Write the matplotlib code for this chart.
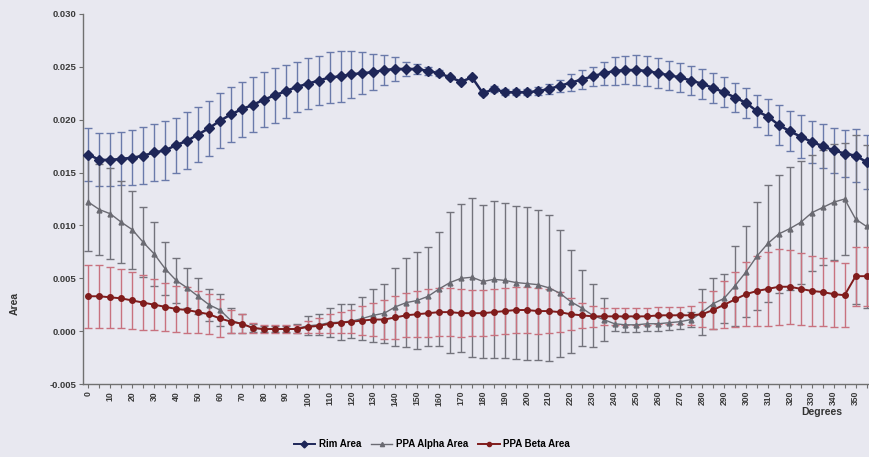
import matplotlib
matplotlib.use("Agg")
import matplotlib.pyplot as plt
from matplotlib.lines import Line2D
import numpy as np

plt.rcParams['font.family'] = ['Liberation Sans', 'DejaVu Sans']

degrees = list(range(0, 360, 5))

rim_area = [0.0167, 0.0162, 0.0162, 0.0163, 0.0164, 0.0166, 0.0169, 0.0171, 0.0176, 0.0180,
            0.0186, 0.0192, 0.0199, 0.0205, 0.0210, 0.0214, 0.0219, 0.0223, 0.0227, 0.0231,
            0.0234, 0.0237, 0.0240, 0.0241, 0.0243, 0.0244, 0.0245, 0.0247, 0.0248, 0.0248,
            0.0248, 0.0246, 0.0244, 0.0240, 0.0236, 0.0240, 0.0225, 0.0229, 0.0226, 0.0226,
            0.0226, 0.0227, 0.0229, 0.0232, 0.0235, 0.0238, 0.0241, 0.0244, 0.0246, 0.0247,
            0.0247, 0.0246, 0.0244, 0.0242, 0.0240, 0.0237, 0.0234, 0.0230, 0.0226, 0.0221,
            0.0216, 0.0208, 0.0203, 0.0195, 0.0189, 0.0184, 0.0179, 0.0175, 0.0171, 0.0168,
            0.0166, 0.0160]
rim_err = [0.0025, 0.0025, 0.0025, 0.0025, 0.0026, 0.0027, 0.0027, 0.0028, 0.0026, 0.0027,
           0.0026, 0.0026, 0.0026, 0.0026, 0.0026, 0.0026, 0.0026, 0.0026, 0.0025, 0.0024,
           0.0024, 0.0023, 0.0024, 0.0024, 0.0022, 0.0020, 0.0017, 0.0014, 0.0011, 0.0007,
           0.0005, 0.0004, 0.0003, 0.0001, 0.0001, 0.0001, 0.0002, 0.0003, 0.0003, 0.0003,
           0.0003, 0.0004, 0.0005, 0.0006, 0.0008, 0.0009, 0.0009, 0.0011, 0.0013, 0.0013,
           0.0014, 0.0014, 0.0014, 0.0014, 0.0014, 0.0014, 0.0014, 0.0014, 0.0014, 0.0014,
           0.0014, 0.0015, 0.0017, 0.0019, 0.0019, 0.0020, 0.0020, 0.0021, 0.0021, 0.0022,
           0.0025, 0.0026]

alpha_area = [0.0122, 0.0115, 0.0111, 0.0103, 0.0096, 0.0084, 0.0073, 0.0059, 0.0048, 0.0041,
              0.0033, 0.0025, 0.0020, 0.0010, 0.0007, 0.0003, 0.0002, 0.0002, 0.0002, 0.00025,
              0.0005, 0.0006, 0.0008, 0.00085, 0.00095, 0.0012, 0.0015, 0.0017, 0.0023, 0.0027,
              0.0029, 0.0033, 0.0040, 0.0046, 0.0050, 0.0051, 0.0047, 0.0049, 0.0048, 0.0046,
              0.0045, 0.0044, 0.0041, 0.0036, 0.0028, 0.0022, 0.0015, 0.0011, 0.0007, 0.0006,
              0.0006, 0.0007, 0.0007, 0.0008, 0.0009, 0.0011, 0.0018, 0.0026, 0.0031, 0.0043,
              0.0056, 0.0071, 0.0083, 0.0092, 0.0097, 0.0103, 0.0112, 0.0117, 0.0122, 0.0125,
              0.0106, 0.0099]
alpha_err = [0.0046, 0.0043, 0.0043, 0.0039, 0.0037, 0.0033, 0.0030, 0.0025, 0.0021, 0.0019,
             0.0017, 0.0015, 0.0015, 0.0012, 0.0009, 0.0004, 0.0003, 0.0003, 0.0003, 0.0004,
             0.0009, 0.0010, 0.0014, 0.0017, 0.0016, 0.0020, 0.0025, 0.0028, 0.0037, 0.0042,
             0.0046, 0.0047, 0.0054, 0.0067, 0.0070, 0.0075, 0.0072, 0.0074, 0.0073, 0.0072,
             0.0072, 0.0071, 0.0069, 0.0060, 0.0049, 0.0036, 0.0030, 0.0020, 0.0007, 0.0007,
             0.0007, 0.0007, 0.0007, 0.0007, 0.0007, 0.0007, 0.0022, 0.0024, 0.0023, 0.0038,
             0.0043, 0.0051, 0.0055, 0.0056, 0.0058, 0.0058, 0.0055, 0.0054, 0.0055, 0.0053,
             0.0080, 0.0077]

beta_area = [0.0033, 0.0033, 0.0032, 0.0031, 0.0029, 0.0027, 0.0025, 0.0023, 0.0021, 0.0020,
             0.0018, 0.0016, 0.0012, 0.0009, 0.0007, 0.0003, 0.0002, 0.0002, 0.0002, 0.0002,
             0.0004, 0.0005, 0.0007, 0.0008, 0.0009, 0.0010, 0.0011, 0.0011, 0.0013, 0.0015,
             0.0016, 0.0017, 0.0018, 0.0018, 0.0017, 0.0017, 0.0017, 0.0018, 0.0019, 0.0020,
             0.0020, 0.0019, 0.0019, 0.0018, 0.0016, 0.0015, 0.0014, 0.0014, 0.0014, 0.0014,
             0.0014, 0.0014, 0.0015, 0.0015, 0.0015, 0.0015, 0.0016, 0.0020, 0.0025, 0.0030,
             0.0035, 0.0038, 0.0040, 0.0042, 0.0042, 0.0040, 0.0038, 0.0037, 0.0035, 0.0034,
             0.0052, 0.0052]
beta_err = [0.0030, 0.0030, 0.0029, 0.0028, 0.0027, 0.0026, 0.0024, 0.0023, 0.0022, 0.0022,
            0.0020, 0.0019, 0.0018, 0.0011, 0.0009, 0.0005, 0.0004, 0.0004, 0.0004, 0.0004,
            0.0006, 0.0007, 0.0009, 0.0010, 0.0011, 0.0014, 0.0016, 0.0018, 0.0020, 0.0021,
            0.0022, 0.0023, 0.0023, 0.0023, 0.0023, 0.0022, 0.0022, 0.0022, 0.0022, 0.0022,
            0.0022, 0.0022, 0.0021, 0.0019, 0.0015, 0.0012, 0.0010, 0.0008, 0.0008, 0.0008,
            0.0008, 0.0008, 0.0008, 0.0008, 0.0008, 0.0009, 0.0012, 0.0018, 0.0022, 0.0026,
            0.0030, 0.0033, 0.0035, 0.0036, 0.0035, 0.0034, 0.0033, 0.0032, 0.0031, 0.0030,
            0.0028, 0.0028]

series_names = ["Rim Area", "PPA Alpha Area", "PPA Beta Area"]

bg = '#e8e8f0'
fig = plt.figure(figsize=(8.69, 4.57), dpi=100, facecolor=bg)
ax = fig.add_axes([0.0955, 0.1597, 0.908, 0.8097], facecolor=bg)

x = np.array(degrees)

# error bars
ax.errorbar(x, rim_area, yerr=rim_err, fmt='none', ecolor='#6a7aaa', elinewidth=1.0,
            capsize=2.6, capthick=1.0, zorder=2)
ax.errorbar(x, alpha_area, yerr=alpha_err, fmt='none', ecolor='#73737c', elinewidth=1.0,
            capsize=2.6, capthick=1.0, zorder=2)
ax.errorbar(x, beta_area, yerr=beta_err, fmt='none', ecolor='#c8727f', elinewidth=1.0,
            capsize=2.6, capthick=1.0, zorder=3)

rim_c = '#1e2658'
alpha_c = '#6a6a72'
beta_c = '#801c1c'
ax.plot(x, rim_area, color=rim_c, lw=1.8, marker='D', ms=5.2, mfc=rim_c, mec=rim_c, zorder=5)
ax.plot(x, alpha_area, color=alpha_c, lw=1.0, marker='^', ms=3.5, mfc=alpha_c, mec=alpha_c, zorder=4)
ax.plot(x, beta_area, color=beta_c, lw=1.4, marker='o', ms=4.0, mfc=beta_c, mec=beta_c, zorder=4)

ax.set_xlim(-2.5, 357.5)
ax.set_ylim(-0.005, 0.030)
yt = np.arange(-0.005, 0.0301, 0.005)
ax.set_yticks(yt)
ax.set_yticklabels([f"{v:.3f}" for v in yt])
ax.set_xticks(degrees[::2])
ax.set_xticklabels([str(d) for d in degrees[::2]], rotation=90)
ax.set_xticks(degrees[1::2], minor=True)

for s in ['top', 'right']:
    ax.spines[s].set_visible(False)
for s in ['left', 'bottom']:
    ax.spines[s].set_color('#707070')
    ax.spines[s].set_linewidth(1.0)

ax.tick_params(axis='both', which='both', direction='out', color='#707070', length=3,
               width=0.8, labelcolor='#3a3a3a')
ax.tick_params(axis='y', labelsize=6.8, pad=2)
ax.tick_params(axis='x', labelsize=6.2, pad=2)
for lab in ax.get_xticklabels() + ax.get_yticklabels():
    lab.set_fontweight('bold')

fig.text(0.017, 0.337, "Area", rotation=90, ha='center', va='center',
         fontsize=7.5, fontweight='bold', color='#333333')
fig.text(0.946, 0.099, "Degrees", ha='center', va='center',
         fontsize=7.5, fontweight='bold', color='#333333')

handles = [
    Line2D([], [], color=rim_c, lw=1.4, marker='D', ms=3.5),
    Line2D([], [], color=alpha_c, lw=1.0, marker='^', ms=3.0),
    Line2D([], [], color=beta_c, lw=1.4, marker='o', ms=3.0),
]
fig.legend(handles, series_names, loc='center', bbox_to_anchor=(0.497, 0.028), ncol=3,
           frameon=False, handlelength=2.2, handletextpad=0.4,
           columnspacing=1.0, prop={'weight': 'bold', 'size': 7})

fig.savefig("out.png", dpi=100, facecolor=bg)
